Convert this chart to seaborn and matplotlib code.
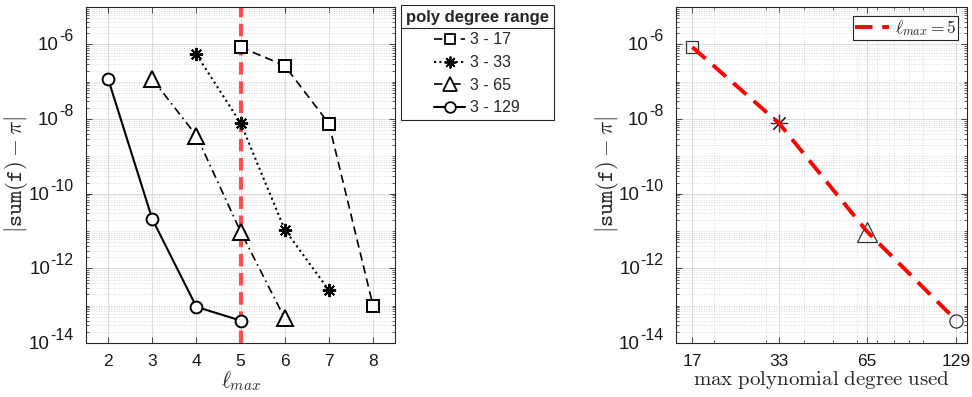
import numpy as np
import pandas as pd
import matplotlib
matplotlib.use("Agg")
import matplotlib.pyplot as plt
import matplotlib.ticker as mticker
from matplotlib.lines import Line2D
import seaborn as sns

# ---------------- data ----------------
range_labels = ["3 - 17", "3 - 33", "3 - 65", "3 - 129"]
lmax_17 = [5, 6, 7, 8]
err_17 = [8.5e-7, 2.7e-7, 7.6e-9, 1.0e-13]
lmax_33 = [4, 5, 6, 7]
err_33 = [5.4e-7, 7.9e-9, 1.1e-11, 2.6e-13]
lmax_65 = [3, 4, 5, 6]
err_65 = [1.2e-7, 3.6e-9, 9.7e-12, 4.6e-14]
lmax_129 = [2, 3, 4, 5]
err_129 = [1.2e-7, 2.1e-11, 9.3e-14, 4.0e-14]

max_degree = [17, 33, 65, 129]
err_lmax5 = [8.5e-7, 7.9e-9, 9.7e-12, 4.0e-14]
lmax_highlight = 5

yticks = [1e-14, 1e-12, 1e-10, 1e-8, 1e-6]
xticks_left = [2, 3, 4, 5, 6, 7, 8]
xticks_right = [17, 33, 65, 129]

# ---------------- style ----------------
sns.set_theme(style="white")
plt.rcParams.update({
    "font.family": ["Liberation Sans", "DejaVu Sans"],
    "mathtext.fontset": "cm",
    "axes.unicode_minus": False,
    "axes.edgecolor": "#262626",
    "axes.linewidth": 0.8,
    "xtick.direction": "in",
    "ytick.direction": "in",
    "xtick.top": True,
    "ytick.right": True,
    "xtick.bottom": True,
    "ytick.left": True,
    "xtick.color": "#262626",
    "ytick.color": "#262626",
    "xtick.labelcolor": "#1a1a1a",
    "ytick.labelcolor": "#1a1a1a",
    "xtick.major.size": 4,
    "ytick.major.size": 4,
    "xtick.minor.size": 2,
    "ytick.minor.size": 2,
    "xtick.major.width": 0.6,
    "ytick.major.width": 0.6,
    "xtick.minor.width": 0.5,
    "ytick.minor.width": 0.5,
    "xtick.labelsize": 12.5,
    "ytick.labelsize": 12.5,
    "xtick.major.pad": 8,
    "ytick.major.pad": 7,
})

fig = plt.figure(figsize=(9.72, 3.97), dpi=100)
ax1 = fig.add_axes([0.0885, 0.136, 0.318, 0.846])
ax2 = fig.add_axes([0.6955, 0.136, 0.2994, 0.846])

series = [
    (lmax_17, err_17, "s", (5, 3), 8.5, 1.2),
    (lmax_33, err_33, (8, 2, 0), (1, 1.6), 9.5, 1.5),
    (lmax_65, err_65, "^", (5, 2.5, 1, 2.5), 11, 1.2),
    (lmax_129, err_129, "o", None, 8.5, 1.5),
]

def style_axes(ax):
    ax.set_yscale("log")
    ax.set_ylim(1e-14, 1e-5)
    ax.yaxis.set_major_locator(mticker.FixedLocator(yticks))
    ax.yaxis.set_major_formatter(mticker.NullFormatter())
    ax.yaxis.set_minor_locator(mticker.LogLocator(base=10, subs=np.arange(1, 10), numticks=50))
    ax.yaxis.set_minor_formatter(mticker.NullFormatter())
    ax.grid(True, which="major", color="#dcdcdc", linewidth=0.7, linestyle="-")
    ax.grid(True, which="minor", axis="y", color="#cfcfcf", linewidth=0.6, linestyle=(0, (1, 2)))
    ax.set_axisbelow(True)
    for s in ax.spines.values():
        s.set_visible(True)
        s.set_color("#262626")
        s.set_linewidth(0.8)

# ---------------- left panel ----------------
style_axes(ax1)
ax1.axvline(lmax_highlight, color="#ff4d4d", linewidth=3, linestyle=(0, (3, 1.6)), zorder=1.5)

handles = []
for (xs, ys, mk, dsh, ms, lw), lab in zip(series, range_labels):
    ls = "-" if dsh is None else (0, dsh)
    sns.lineplot(x=xs, y=ys, ax=ax1, color="black", linewidth=lw, linestyle=ls,
                 marker=mk, markersize=ms, markerfacecolor="white", markeredgecolor="black",
                 markeredgewidth=1.4, zorder=3, legend=False)
    handles.append(Line2D([], [], color="black", linewidth=lw, linestyle=ls, marker=mk,
                          markersize=ms * 0.9, markerfacecolor="white",
                          markeredgecolor="black", markeredgewidth=1.3))

ax1.set_xlim(1.5, 8.5)
ax1.set_xticks(xticks_left)
ax1.set_xticklabels([str(v) for v in xticks_left])
ax1.xaxis.set_minor_locator(mticker.NullLocator())
ax1.set_xlabel(r"$\ell_{max}$", fontsize=15.5, labelpad=0)
ax1.set_ylabel(r"$|\mathtt{sum(f)} - \pi|$", fontsize=16.5)
ax1.yaxis.set_label_coords(-0.18, 0.5)

leg1 = fig.legend(handles, range_labels, loc="upper left",
                  bbox_to_anchor=(0.4126, 0.9874), bbox_transform=fig.transFigure,
                  borderaxespad=0, fontsize=11.5, title="poly degree range",
                  title_fontproperties={"weight": "bold", "size": 12},
                  alignment="center", fancybox=False, framealpha=1,
                  edgecolor="#262626", handlelength=1.9, handletextpad=0.35,
                  labelspacing=0.48, borderpad=0.3)
leg1.get_frame().set_linewidth(0.8)

# ---------------- right panel ----------------
style_axes(ax2)
ax2.set_xscale("log")
ax2.set_xlim(15, 140)
ax2.xaxis.set_major_locator(mticker.FixedLocator(xticks_right))
ax2.xaxis.set_major_formatter(mticker.FixedFormatter([str(v) for v in xticks_right]))
ax2.xaxis.set_minor_locator(mticker.LogLocator(base=10, subs=np.arange(1, 10), numticks=20))
ax2.xaxis.set_minor_formatter(mticker.NullFormatter())
ax2.grid(True, which="minor", axis="x", color="#cfcfcf", linewidth=0.6, linestyle=(0, (1, 2)))

right_markers = [("s", 9), ((8, 2, 0), 12.5), ("^", 15), ("o", 9.5)]
for xv, yv, (mk, ms) in zip(max_degree, err_lmax5, right_markers):
    sns.lineplot(x=[xv], y=[yv], ax=ax2, color="black", linestyle="none", marker=mk,
                 markersize=ms, markerfacecolor="none", markeredgecolor="#333333",
                 markeredgewidth=0.9, zorder=3, legend=False)

sns.lineplot(x=max_degree, y=err_lmax5, ax=ax2, color="#ff0000", linewidth=2.8,
             linestyle=(0, (4.5, 2.5)), zorder=4, label=r"$\ell_{max} = 5$")
leg2 = ax2.legend(loc="upper right", fontsize=12.5, fancybox=False, framealpha=1,
                  edgecolor="#262626", handlelength=2.0, handletextpad=0.3,
                  borderaxespad=0.5, borderpad=0.12)
leg2.get_frame().set_linewidth(0.8)
for t in leg2.get_texts():
    t.set_math_fontfamily("cm")

ax2.set_xlabel(r"$\mathrm{max\ polynomial\ degree\ used}$", fontsize=15, labelpad=0)
ax2.set_ylabel(r"$|\mathtt{sum(f)} - \pi|$", fontsize=16.5)
ax2.yaxis.set_label_coords(-0.19, 0.5)

# ---------------- MATLAB-like y tick labels (large superscripts) ----------------
base_fs, sup_fs, gap_pt = 13.5, 11.5, 9
sup_items = []
for ax in (ax1, ax2):
    tr = ax.get_yaxis_transform()
    for v in yticks:
        e = int(round(np.log10(v)))
        t = ax.annotate(f"{e}", xy=(0, v), xycoords=tr, xytext=(-gap_pt, 5.5),
                        textcoords="offset points", ha="right", va="center",
                        fontsize=sup_fs, color="#1a1a1a", annotation_clip=False)
        sup_items.append((ax, v, t))

fig.canvas.draw()
r = fig.canvas.get_renderer()
for ax, v, t in sup_items:
    w_pt = t.get_window_extent(r).width * 72.0 / fig.dpi
    ax.annotate("10", xy=(0, v), xycoords=ax.get_yaxis_transform(),
                xytext=(-gap_pt - w_pt - 0.3, -1.0), textcoords="offset points",
                ha="right", va="center", fontsize=base_fs, color="#1a1a1a",
                annotation_clip=False)

# separator line under legend title
fb = leg1.get_frame().get_window_extent(r)
tb = leg1.get_title().get_window_extent(r)
W, H = fig.bbox.width, fig.bbox.height
ysep = (tb.y0 - 3) / H
fig.add_artist(Line2D([fb.x0 / W, fb.x1 / W], [ysep, ysep], transform=fig.transFigure,
                      color="#262626", linewidth=0.8, zorder=10))

fig.savefig("out.png", dpi=100)
